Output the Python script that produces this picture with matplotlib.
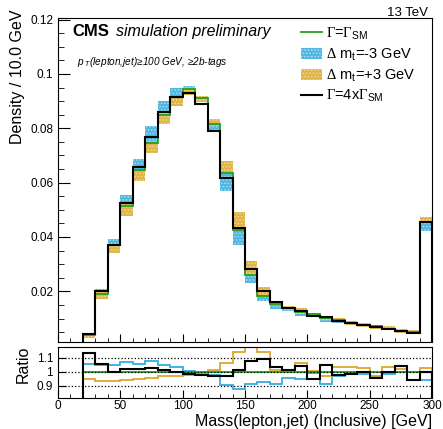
import numpy as np
import matplotlib.pyplot as plt
from matplotlib.lines import Line2D
from matplotlib.patches import Patch
from matplotlib.ticker import MultipleLocator, FormatStrFormatter

plt.rcParams['font.family'] = 'Liberation Sans'
plt.rcParams['mathtext.fontset'] = 'custom'
plt.rcParams['mathtext.rm'] = 'Liberation Serif'
plt.rcParams['mathtext.it'] = 'Liberation Sans:italic'
plt.rcParams['mathtext.sf'] = 'Liberation Sans'
plt.rcParams['mathtext.bf'] = 'Liberation Sans:bold'
plt.rcParams['hatch.linewidth'] = 0.8

# Data: density per 10 GeV bin, bins 20-300 GeV (last bin holds overflow)
edges = np.arange(20, 301, 10)
nominal = [0.0038, 0.0192, 0.0369, 0.0514, 0.0646, 0.0746, 0.0850, 0.0914, 0.0945, 0.0912,
           0.0814, 0.0636, 0.0427, 0.0261, 0.0184, 0.0155, 0.0138, 0.0123, 0.0115, 0.0102,
           0.0093, 0.0083, 0.0076, 0.0071, 0.0063, 0.0053, 0.0051, 0.0456]
width4 = [0.0043, 0.0202, 0.0369, 0.0524, 0.0659, 0.0767, 0.0859, 0.0914, 0.0931, 0.0889,
          0.0791, 0.0618, 0.0432, 0.0281, 0.0201, 0.0160, 0.0140, 0.0128, 0.0109, 0.0107,
          0.0091, 0.0082, 0.0076, 0.0068, 0.0063, 0.0055, 0.0048, 0.0454]
mt_minus3 = [0.0040, 0.0201, 0.0386, 0.0549, 0.0682, 0.0804, 0.0894, 0.0944, 0.0950, 0.0903,
             0.0798, 0.0576, 0.0375, 0.0238, 0.0171, 0.0142, 0.0132, 0.0117, 0.0114, 0.0093,
             0.0090, 0.0082, 0.0075, 0.0069, 0.0062, 0.0053, 0.0051, 0.0429]
mt_plus3 = [0.0036, 0.0179, 0.0346, 0.0485, 0.0612, 0.0715, 0.0822, 0.0888, 0.0927, 0.0901,
            0.0827, 0.0674, 0.0487, 0.0306, 0.0210, 0.0157, 0.0140, 0.0131, 0.0116, 0.0099,
            0.0096, 0.0086, 0.0078, 0.0069, 0.0065, 0.0054, 0.0051, 0.0469]

green = '#22a022'
blue, blue_light = '#50b6e0', '#a5dcf2'
gold, gold_light = '#deb448', '#f2d98f'
blue_line, gold_line = '#35ace0', '#dca630'

fig = plt.figure(figsize=(4.43, 4.29), dpi=100)
ax = fig.add_axes([0.1309, 0.2021, 0.8442, 0.7548])
rax = fig.add_axes([0.1309, 0.0730, 0.8442, 0.1189])

# shaded boxes between nominal and shifted mass
nom = np.array(nominal)
pad = 0.0006
for var, fc, hc in [(mt_minus3, blue, blue_light), (mt_plus3, gold, gold_light)]:
    var = np.array(var)
    lo = np.minimum(var, nom) - pad
    hi = np.maximum(var, nom) + pad
    ax.bar(edges[:-1], hi - lo, bottom=lo, width=10, align='edge',
           color=fc, edgecolor=hc, hatch='.....', linewidth=0)

ax.stairs(nominal, edges, baseline=0, color=green, lw=1.3)
ax.stairs(width4, edges, baseline=0, color='black', lw=1.5)

ax.set_xlim(0, 300)
ax.set_ylim(0.00125, 0.1204)
ax.yaxis.set_major_locator(MultipleLocator(0.02))
ax.yaxis.set_minor_locator(MultipleLocator(0.005))
ax.yaxis.set_major_formatter(FormatStrFormatter('%g'))
ax.xaxis.set_major_locator(MultipleLocator(50))
ax.xaxis.set_minor_locator(MultipleLocator(10))
ax.tick_params(which='both', direction='in', labelbottom=False, labelsize=8.5)
ax.tick_params(axis='y', which='major', length=8.5)
ax.tick_params(axis='y', which='minor', length=4.3)
ax.tick_params(axis='x', which='major', length=5.8)
ax.tick_params(axis='x', which='minor', length=2.9)

# ratio panel
for yv in [0.9, 1.0, 1.1]:
    rax.axhline(yv, color='black', ls=':', lw=0.9)
rax.stairs(np.array(mt_minus3) / nom, edges, baseline=0, color=blue_line, lw=1.3)
rax.stairs(np.array(mt_plus3) / nom, edges, baseline=0, color=gold_line, lw=1.3)
rax.stairs(nom / nom, edges, baseline=0, color=green, lw=1.3)
rax.stairs(np.array(width4) / nom, edges, baseline=0, color='black', lw=1.5)
rax.set_xlim(0, 300)
rax.set_ylim(0.817, 1.178)
rax.set_yticks([0.9, 1.0, 1.1])
rax.set_yticklabels(['0.9', '1', '1.1'])
rax.xaxis.set_major_locator(MultipleLocator(50))
rax.xaxis.set_minor_locator(MultipleLocator(10))
rax.tick_params(which='both', direction='in', labelsize=8.5)
rax.tick_params(axis='x', which='major', length=5.8, pad=1.5)
rax.tick_params(axis='x', which='minor', length=2.9)
rax.tick_params(axis='y', which='major', length=6)

# texts
fig.text(0.04, 1 - 10 / 429, 'Density / 10.0 GeV', rotation=90, ha='center', va='top', fontsize=11.5)
fig.text(23 / 443, 1 - 364 / 429, 'Ratio', rotation=90, ha='center', va='center', fontsize=11.5)
fig.text(432 / 443, 0.006, 'Mass(lepton,jet) (Inclusive) [GeV]', ha='right', va='baseline', fontsize=11.5)
fig.text(428 / 443, 1 - 16 / 429, '13 TeV', ha='right', va='baseline', fontsize=9.5)
fig.text(72.7 / 443, 1 - 36 / 429, 'CMS', ha='left', va='baseline', fontsize=12, fontweight='bold')
fig.text(115.7 / 443, 1 - 36 / 429, 'simulation preliminary', ha='left', va='baseline',
         fontsize=11.5, style='italic')
fig.text(77 / 443, 1 - 62 / 429, r'$p_{\ T}$(lepton,jet)≥100 GeV, ≥2b-tags', ha='left', va='center',
         fontsize=7.2, style='italic')

handles = [Line2D([], [], color=green, lw=1.3),
           Patch(facecolor=blue, edgecolor=blue_light, hatch='.....', lw=0),
           Patch(facecolor=gold, edgecolor=gold_light, hatch='.....', lw=0),
           Line2D([], [], color='black', lw=1.5)]
labels = [r'$\Gamma$=$\Gamma_{\mathsf{SM}}$',
          r'$\Delta$ m$_{\mathsf{t}}$=-3 GeV',
          r'$\Delta$ m$_{\mathsf{t}}$=+3 GeV',
          r'$\Gamma$=4x$\Gamma_{\mathsf{SM}}$']
fig.legend(handles, labels, loc='upper left', bbox_to_anchor=(0.68, 0.94), frameon=False,
           fontsize=10.5, handlelength=1.45, handleheight=0.8, handletextpad=0.25,
           labelspacing=0.3, borderpad=0, borderaxespad=0)

fig.savefig('out.png', dpi=100)
